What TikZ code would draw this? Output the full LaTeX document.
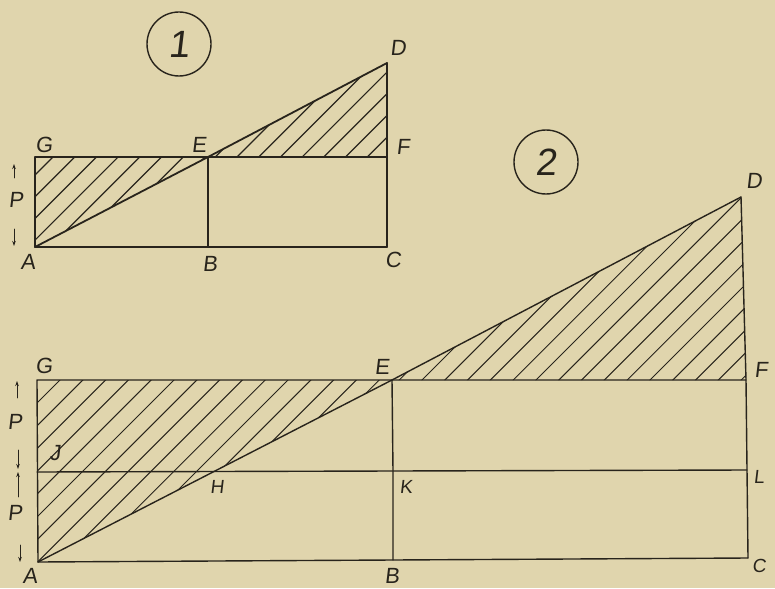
\documentclass[tikz,border=0pt]{standalone}
\usepackage{fontspec}
\setmainfont{Liberation Sans}
\newfontfamily\labfont[FakeSlant=0.12]{Liberation Sans}
\usetikzlibrary{arrows.meta}
\definecolor{bg}{RGB}{224,213,173}
\definecolor{ink}{RGB}{40,36,28}
\begin{document}
\begin{tikzpicture}[x=1pt,y=-1pt,line join=round,line cap=round,
  edgeA/.style={draw=ink,line width=1.8pt},
  edgeB/.style={draw=ink,line width=1.4pt},
  hatchA/.style={draw=ink,line width=1.2pt},
  hatchB/.style={draw=ink,line width=1pt},
  lbl/.style={text=ink,font=\labfont\fontsize{22}{22}\selectfont,inner sep=0pt},
  lbls/.style={text=ink,font=\labfont\fontsize{19}{19}\selectfont,inner sep=0pt},
  pmark/.style={draw=ink,line width=0.9pt,-{Stealth[length=5pt,width=3.5pt]}},
  numcircle/.style={circle,draw=ink,line width=1.4pt,minimum size=64pt,inner sep=0pt,text=ink,font=\labfont\fontsize{38}{38}\selectfont}]
\fill[bg] (0,0) rectangle (775,588);
\useasboundingbox (0,0) rectangle (775,588);

% ---------- Figure 1 ----------
\coordinate (A1) at (35,247);
\coordinate (B1) at (208,247);
\coordinate (C1) at (387,247);
\coordinate (G1) at (35,157);
\coordinate (E1) at (208,157);
\coordinate (F1) at (387,157);
\coordinate (D1) at (387,63);

\begin{scope}
  \clip (A1) -- (G1) -- (E1) -- cycle;
  \foreach \k in {-1,...,8}{
    \pgfmathsetmacro{\c}{210+21.7*\k}
    \draw[hatchA] (\c,0) -- ({\c-600},600);
  }
\end{scope}
\begin{scope}
  \clip (E1) -- (D1) -- (F1) -- cycle;
  \foreach \k in {-2,...,7}{
    \pgfmathsetmacro{\c}{394+21.7*\k}
    \draw[hatchA] (\c,0) -- ({\c-600},600);
  }
\end{scope}

\draw[edgeA] (A1) -- (G1) -- (F1);
\draw[edgeA] (A1) -- (C1);
\draw[edgeA] (B1) -- (E1);
\draw[edgeA] (D1) -- (C1);
\draw[edgeA] (A1) -- (E1) -- (D1);

\node[numcircle] (n1) at (179,44) {1};
\node[lbl] (lG1) at (44,145) {G};
\node[lbl] (lE1) at (199,145) {E};
\node[lbl] (lF1) at (403,147) {F};
\node[lbl] (lD1) at (398,48) {D};
\node[lbl] (lA1) at (28,262) {A};
\node[lbl] (lB1) at (210,264) {B};
\node[lbl] (lC1) at (393,260) {C};
\node[lbl] (lP1) at (16,200) {P};
\coordinate (p1a) at (14,178); \coordinate (p1b) at (14,164);
\coordinate (p1c) at (14,229); \coordinate (p1d) at (14,246);
\draw[pmark] (p1a) -- (p1b);
\draw[pmark] (p1c) -- (p1d);

% ---------- Figure 2 ----------
\coordinate (A2) at (38,562);
\coordinate (B2) at (393,560);
\coordinate (C2) at (748,558);
\coordinate (G2) at (37,380);
\coordinate (E2) at (392,380);
\coordinate (F2) at (746,380);
\coordinate (D2) at (741,197);
\coordinate (J2) at (37,472);
\coordinate (K2) at (393,471);
\coordinate (L2) at (747,470);
\coordinate (H2) at (213,472);

\begin{scope}
  \clip (A2) -- (G2) -- (E2) -- cycle;
  \foreach \k in {-1,...,14}{
    \pgfmathsetmacro{\c}{440+22.8*\k}
    \draw[hatchB] (\c,0) -- ({\c-700},700);
  }
\end{scope}
\begin{scope}
  \clip (E2) -- (D2) -- (F2) -- cycle;
  \foreach \k in {-2,...,15}{
    \pgfmathsetmacro{\c}{802+22.8*\k}
    \draw[hatchB] (\c,0) -- ({\c-900},900);
  }
\end{scope}

\draw[edgeB] (A2) -- (G2) -- (F2);
\draw[edgeB] (J2) -- (K2) -- (L2);
\draw[edgeB] (A2) -- (B2) -- (C2);
\draw[edgeB] (B2) -- (K2) -- (E2);
\draw[edgeB] (D2) -- (F2) -- (L2) -- (C2);
\draw[edgeB] (A2) -- (H2) -- (E2) -- (D2);

\node[numcircle] (n2) at (546,162) {2};
\node[lbl] (lG2) at (44,366) {G};
\node[lbl] (lE2) at (382,367) {E};
\node[lbl] (lF2) at (761,370) {F};
\node[lbl] (lD2) at (754,181) {D};
\node[lbl] (lJ2) at (55,453) {J};
\node[lbls] (lH2) at (217,487) {H};
\node[lbls] (lK2) at (406,487) {K};
\node[lbls] (lL2) at (759,477) {L};
\node[lbl] (lA2) at (30,576) {A};
\node[lbl] (lB2) at (392,576) {B};
\node[lbls] (lC2) at (759,566) {C};
\node[lbl] (lP2a) at (15,422) {P};
\node[lbl] (lP2b) at (15,513) {P};
\coordinate (p2a) at (17,398); \coordinate (p2b) at (17,381);
\coordinate (p2c) at (18,450); \coordinate (p2d) at (18,469);
\coordinate (p2e) at (18,497); \coordinate (p2f) at (18,472);
\coordinate (p2g) at (20,545); \coordinate (p2h) at (20,562);
\draw[pmark] (p2a) -- (p2b);
\draw[pmark] (p2c) -- (p2d);
\draw[pmark] (p2e) -- (p2f);
\draw[pmark] (p2g) -- (p2h);
\end{tikzpicture}
\end{document}
